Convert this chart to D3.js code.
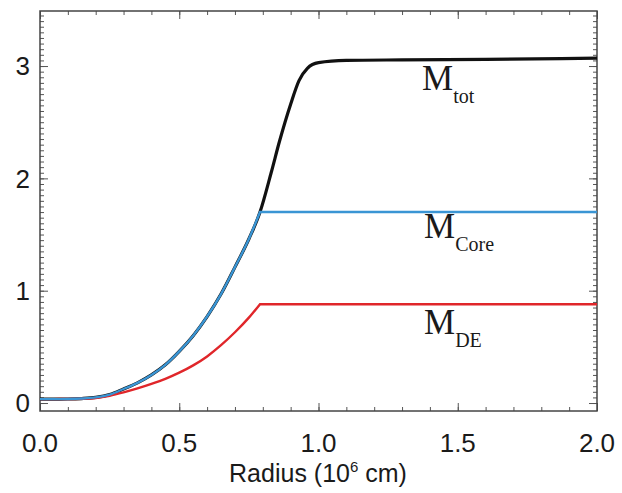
<!DOCTYPE html>
<html lang="en">
<head>
    <meta charset="UTF-8">
    <title>Mass vs Radius</title>
    <script src="https://d3js.org/d3.v7.min.js"></script>
    <style>
        body { margin: 0; background: #fff; }
        text { font-family: "Liberation Sans", Arial, sans-serif; fill: #1a1a1a; }
        .lbl { font-family: "Liberation Serif", "Times New Roman", serif; }
    </style>
</head>
<body>
    <div id="chart"></div>

    <script>
        // data (radius in 10^6 cm)
        const radius = [0, 0.05, 0.1, 0.15, 0.2, 0.25, 0.3, 0.35, 0.4, 0.45, 0.5, 0.55, 0.6, 0.65, 0.7, 0.75, 0.79];
        const coreMass = [0.035, 0.035, 0.036, 0.04, 0.05, 0.075, 0.125, 0.18, 0.25, 0.34, 0.46, 0.6, 0.77, 0.97, 1.21, 1.46, 1.70];
        const deMass = [0.035, 0.035, 0.036, 0.038, 0.045, 0.065, 0.095, 0.13, 0.17, 0.215, 0.27, 0.335, 0.415, 0.515, 0.63, 0.76, 0.88];
        const totRadius = [0.83, 0.86, 0.9, 0.93, 0.96, 1.0, 1.1, 1.3, 1.6, 2.0];
        const totMass = [2.05, 2.33, 2.66, 2.87, 2.98, 3.03, 3.05, 3.055, 3.06, 3.07];
        const xTicks = [0, 0.5, 1.0, 1.5, 2.0];
        const yTicks = [0, 1, 2, 3];

        const W = 622, H = 493;
        const mLeft = 40, mRight = 597, mTop = 11, mBottom = 411;

        const svg = d3.select("#chart").append("svg")
            .attr("width", W).attr("height", H);

        const x = d3.scaleLinear().domain([0, 2]).range([mLeft, mRight]);
        const y = d3.scaleLinear().domain([-0.071, 3.49]).range([mBottom, mTop]);

        // minor + major ticks, inward on all four sides
        const xMinor = d3.range(0, 2.0001, 0.1);
        const yMinor = d3.range(0, 3.46, 0.05);

        function tickAxis(axisFn, scale, vals, size, transform) {
            const g = svg.append("g")
                .attr("transform", transform)
                .call(axisFn(scale).tickValues(vals).tickSize(size).tickFormat(""));
            g.select(".domain").remove();
            g.selectAll("line").attr("stroke", "#555").attr("stroke-width", 1);
        }
        tickAxis(d3.axisBottom, x, xMinor, -4, `translate(0,${mBottom})`);
        tickAxis(d3.axisBottom, x, xTicks, -8, `translate(0,${mBottom})`);
        tickAxis(d3.axisTop, x, xMinor, -4, `translate(0,${mTop})`);
        tickAxis(d3.axisTop, x, xTicks, -8, `translate(0,${mTop})`);
        tickAxis(d3.axisLeft, y, yMinor, -4, `translate(${mLeft},0)`);
        tickAxis(d3.axisLeft, y, yTicks, -8, `translate(${mLeft},0)`);
        tickAxis(d3.axisRight, y, yMinor, -4, `translate(${mRight},0)`);
        tickAxis(d3.axisRight, y, yTicks, -8, `translate(${mRight},0)`);

        // frame
        svg.append("rect")
            .attr("x", mLeft).attr("y", mTop)
            .attr("width", mRight - mLeft).attr("height", mBottom - mTop)
            .attr("fill", "none").attr("stroke", "#444").attr("stroke-width", 1.5);

        // tick labels
        svg.selectAll(".xl").data(xTicks).join("text")
            .attr("x", d => x(d)).attr("y", 452)
            .attr("text-anchor", "middle").style("font-size", "26px")
            .text(d => d.toFixed(1));
        svg.selectAll(".yl").data(yTicks).join("text")
            .attr("x", 30).attr("y", d => y(d))
            .attr("dy", "0.36em")
            .attr("text-anchor", "end").style("font-size", "26px")
            .text(d => d);

        // axis title
        const title = svg.append("text")
            .attr("x", 318).attr("y", 482)
            .attr("text-anchor", "middle").style("font-size", "25px");
        title.append("tspan").text("Radius (10");
        title.append("tspan").attr("dy", -10).style("font-size", "15px").text("6");
        title.append("tspan").attr("dy", 10).text(" cm)");

        // curves
        const line = d3.line()
            .x(d => x(d[0])).y(d => y(d[1]))
            .curve(d3.curveMonotoneX);

        const core = radius.map((r, i) => [r, coreMass[i]]);
        const de = radius.map((r, i) => [r, deMass[i]]);
        const tot = core.concat(totRadius.map((r, i) => [r, totMass[i]]));

        // rise drawn smooth, then a straight plateau to the right edge
        function rising(pts) {
            const last = pts[pts.length - 1];
            return line(pts) + `L${x(2)},${y(last[1])}`;
        }

        svg.append("path").attr("d", line(tot))
            .attr("fill", "none").attr("stroke", "#111").attr("stroke-width", 3.2);
        svg.append("path").attr("d", rising(de))
            .attr("fill", "none").attr("stroke", "#e0262a").attr("stroke-width", 2.4);
        svg.append("path").attr("d", rising(core))
            .attr("fill", "none").attr("stroke", "#3a95d4").attr("stroke-width", 2.4);

        // curve labels
        const labels = [
            { main: "M", sub: "tot", x: 422, y: 90 },
            { main: "M", sub: "Core", x: 424, y: 238 },
            { main: "M", sub: "DE", x: 424, y: 334 }
        ];
        labels.forEach(l => {
            const t = svg.append("text").attr("class", "lbl")
                .attr("x", l.x).attr("y", l.y).style("font-size", "35px");
            t.append("tspan").text(l.main);
            t.append("tspan").attr("dy", 13).style("font-size", "20px").text(l.sub);
        });
    </script>
</body>
</html>
